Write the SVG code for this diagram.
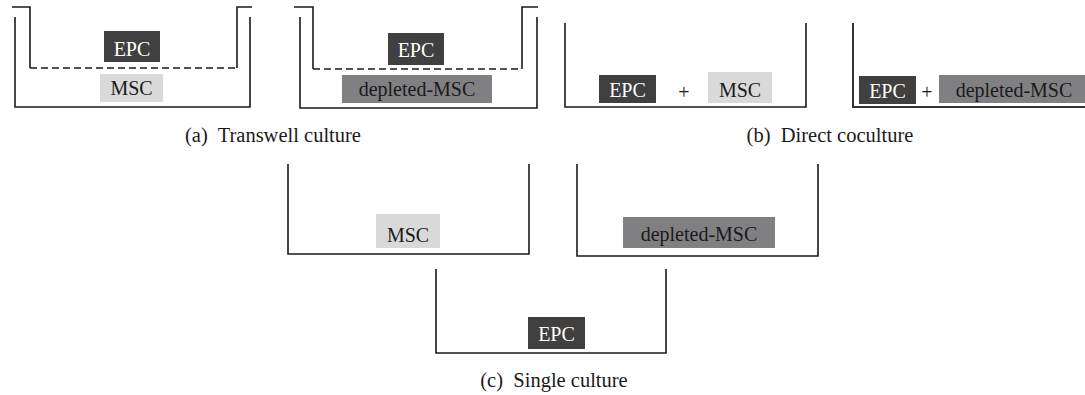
<svg xmlns="http://www.w3.org/2000/svg" width="1085" height="395" viewBox="0 0 1085 395">
<style>
.w{fill:none;stroke:#1a1a1a;stroke-width:1.6}
.d{fill:none;stroke:#1a1a1a;stroke-width:1.6;stroke-dasharray:7 4}
.epc{fill:#404040}
.msc{fill:#d9d9d9}
.dep{fill:#808082}
text{font-family:"Liberation Serif","DejaVu Serif",serif;font-size:20px;text-anchor:middle}
.lt{fill:#ffffff}
.dk{fill:#1a1a1a}
.cap{font-size:20.5px}
</style>
<rect width="1085" height="395" fill="#ffffff"/>
<g id="connectors"></g>
<g id="transwell-msc">
<path class="w" d="M15,17 V107 H250 V17"/>
<path class="w" d="M12,7 H30 V68"/>
<path class="w" d="M237,68 V7 H252"/>
<path class="d" d="M30,68 H237"/>
<rect class="epc" x="104" y="31" width="56" height="31"/>
<text class="lt" x="132" y="56">EPC</text>
<rect class="msc" x="100" y="74" width="63" height="28"/>
<text class="dk" x="131.5" y="95">MSC</text>
</g>
<g id="transwell-dep">
<path class="w" d="M300,17 V108 H537 V17"/>
<path class="w" d="M294,7 H313 V69"/>
<path class="w" d="M522,69 V7 H538"/>
<path class="d" d="M313,69 H522"/>
<rect class="epc" x="388" y="33" width="56" height="32"/>
<text class="lt" x="416" y="57">EPC</text>
<rect class="dep" x="342" y="75" width="150" height="28"/>
<text class="dk" x="417" y="96">depleted-MSC</text>
</g>
<text id="cap-a" class="dk cap" x="273" y="142">(a)&#160; Transwell culture</text>
<g id="direct-msc">
<path class="w" d="M565,23 V107 H806 V23"/>
<rect class="epc" x="599" y="75" width="57" height="28"/>
<text class="lt" x="627.5" y="97">EPC</text>
<text class="dk" x="684" y="99">+</text>
<rect class="msc" x="708" y="72" width="64" height="31"/>
<text class="dk" x="740" y="97">MSC</text>
</g>
<g id="direct-dep">
<path class="w" d="M853,23 V107 H1085" style="stroke:#333;stroke-width:2"/>
<rect class="epc" x="859" y="76" width="57" height="28"/>
<text class="lt" x="887.5" y="98">EPC</text>
<text class="dk" x="927" y="99">+</text>
<rect class="dep" x="939" y="75" width="146" height="28"/>
<text class="dk" x="1014" y="97">depleted-MSC</text>
</g>
<text id="cap-b" class="dk cap" x="830" y="142">(b)&#160; Direct coculture</text>
<g id="single-msc">
<path class="w" d="M288,164 V254 H529 V164"/>
<rect class="msc" x="376" y="214" width="64" height="34"/>
<text class="dk" x="408" y="242">MSC</text>
</g>
<g id="single-dep">
<path class="w" d="M577,164 V256 H818 V164"/>
<rect class="dep" x="623" y="217" width="152" height="31"/>
<text class="dk" x="699" y="241">depleted-MSC</text>
</g>
<g id="single-epc">
<path class="w" d="M436,269 V353 H666 V269"/>
<rect class="epc" x="528" y="317" width="57" height="32"/>
<text class="lt" x="556.5" y="341">EPC</text>
</g>
<text id="cap-c" class="dk cap" x="554" y="387">(c)&#160; Single culture</text>
</svg>
